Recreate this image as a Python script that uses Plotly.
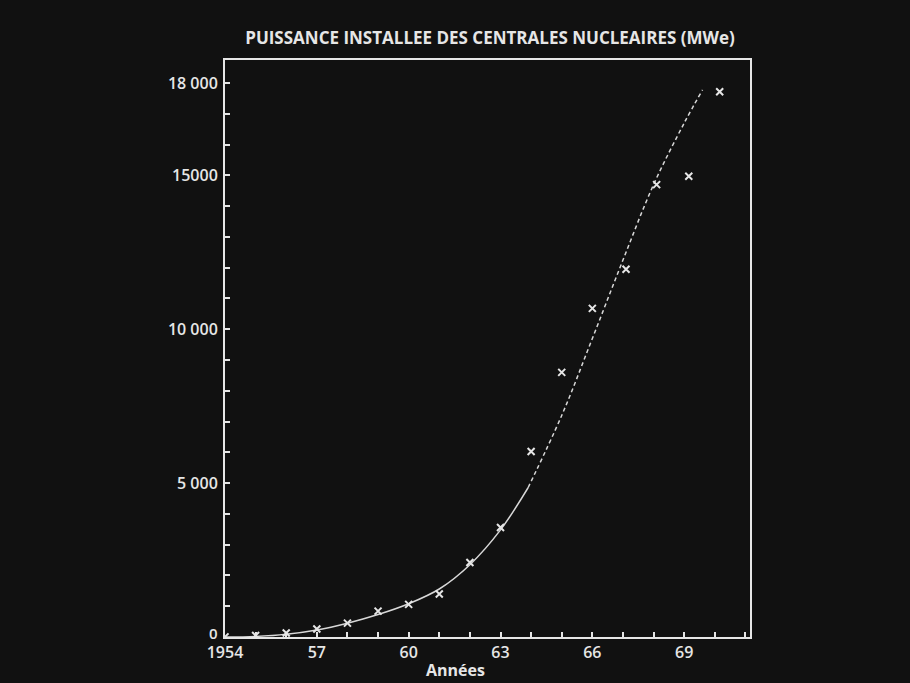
import plotly.graph_objects as go

years = [1954, 1955, 1956, 1957, 1958, 1959, 1960, 1961, 1962, 1963,
         1964, 1965, 1966, 1967.1, 1968.1, 1969.15, 1970.16]
capacity = [5, 50, 130, 260, 450, 840, 1060, 1400, 2420, 3560,
            6030, 8600, 10680, 11950, 14700, 14970, 17720]

# Fitted trend curve (solid part, then dashed extrapolation)
trend_years_solid = [1954, 1955, 1956, 1957, 1958, 1959, 1960, 1961, 1962, 1963, 1963.9]
trend_solid = [0, 20, 90, 230, 450, 730, 1080, 1560, 2350, 3480, 4850]
trend_years_dash = [1963.9, 1965, 1966, 1967, 1968, 1969, 1969.6]
trend_dash = [4850, 7200, 9700, 12250, 14700, 16700, 17780]

x_tickvals = [1954, 1957, 1960, 1963, 1966, 1969]
x_ticktext = ["1954", "57", "60", "63", "66", "69"]
y_tickvals = [0, 5000, 10000, 15000, 18000]
y_ticktext = ["", "5 000", "10 000", "15000", "18 000"]
y_zero_label = "0"

FG = "#e6e6e6"
BG = "#111111"
FONT = "Open Sans"

fig = go.Figure()
fig.add_trace(go.Scatter(x=trend_years_solid, y=trend_solid, mode="lines",
                         line=dict(color="#d8d8d8", width=1.5, shape="spline"),
                         hoverinfo="skip", showlegend=False))
fig.add_trace(go.Scatter(x=trend_years_dash, y=trend_dash, mode="lines",
                         line=dict(color="#d8d8d8", width=1.5, shape="spline", dash="4px,3px"),
                         hoverinfo="skip", showlegend=False))
fig.add_trace(go.Scatter(x=years, y=capacity, mode="markers",
                         marker=dict(symbol="x-thin", size=7, line=dict(color=FG, width=2), color=FG),
                         showlegend=False))

fig.update_layout(
    width=910, height=683,
    paper_bgcolor=BG, plot_bgcolor=BG,
    margin=dict(l=225, r=160, t=60, b=46),
    font=dict(family=FONT, color=FG, size=13),
    title=dict(text="PUISSANCE INSTALLEE DES CENTRALES NUCLEAIRES (MWe)",
               x=490 / 910, xanchor="center", y=1 - 38 / 683, yanchor="middle",
               font=dict(family=FONT, size=17, color=FG, weight=700)),
    annotations=[
        dict(text="Années", xref="paper", yref="paper",
             x=(455 - 225) / 525, y=-(670 - 637) / 577,
             xanchor="center", yanchor="middle", showarrow=False,
             font=dict(family=FONT, size=16, color=FG, weight=700)),
        dict(text=y_zero_label, xref="paper", yref="paper",
             x=-5 / 525, y=4 / 577,
             xanchor="right", yanchor="middle", showarrow=False,
             font=dict(family=FONT, size=15, color=FG, weight=600)),
    ],
)
fig.update_xaxes(
    range=[1954, 1971.15], showgrid=False, zeroline=False,
    showline=True, linecolor=FG, linewidth=2, mirror=True,
    tickvals=x_tickvals, ticktext=x_ticktext,
    ticks="inside", ticklen=5, tickcolor=FG, tickwidth=1.5,
    minor=dict(dtick=1, tick0=1954, ticks="inside", ticklen=5, tickcolor=FG, tickwidth=1.5),
    tickfont=dict(family=FONT, size=16, color=FG, weight=600),
)
fig.update_yaxes(
    range=[0, 18750], showgrid=False, zeroline=False,
    showline=True, linecolor=FG, linewidth=2, mirror=True,
    tickvals=y_tickvals, ticktext=y_ticktext,
    ticks="inside", ticklen=5, tickcolor=FG, tickwidth=1.5,
    minor=dict(dtick=1000, tick0=0, ticks="inside", ticklen=5, tickcolor=FG, tickwidth=1.5),
    tickfont=dict(family=FONT, size=16, color=FG, weight=600),
    ticklabelstandoff=2,
)

fig.write_html(
    "out.html",
    config={"displayModeBar": False},
    post_script="document.body.style.margin='0';document.body.style.background='#111111';",
)
